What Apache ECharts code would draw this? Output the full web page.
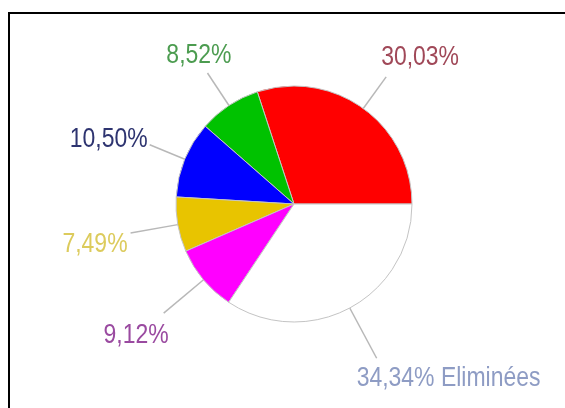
<!DOCTYPE html>
<html>
<head>
<meta charset="utf-8">
<script src="https://cdn.jsdelivr.net/npm/echarts@6/dist/echarts.min.js"></script>
<style>
  html, body { margin: 0; padding: 0; background: #ffffff; }
  #chart { width: 565px; height: 408px; }
</style>
</head>
<body>
<div id="chart"></div>
<script>
// Shares in percent, laid out counter-clockwise starting at 3 o'clock
const categories = ['', '', '', '', '', 'Eliminées'];
const shares = [30.03, 8.52, 10.50, 7.49, 9.12, 34.34];

// Styling, one entry per slice
const sliceColors = ['#ff0000', '#00c200', '#0000ff', '#e8c400', '#ff00ff', '#ffffff'];
const labelColors = ['#a04858', '#4c9c50', '#2e3470', '#dccb5c', '#9a4aa0', '#8e9cc4'];
// Radial leader length, then where the text sits relative to the leader's end
const leaderLengths = [39, 39, 38, 48, 52, 57];
const labelAlign = ['left', 'right', 'right', 'right', 'right', 'left'];
const labelShift = [[-5, -20], [24, -18], [-2, -5], [-3, 11], [5, 22], [-20, 20]];

// Narrow sans look: regular sans squeezed horizontally
const LABEL_FONT = "'Liberation Sans', Arial, sans-serif";
const LABEL_SQUEEZE = 0.82;

function formatShare(value, name) {
  const txt = value.toFixed(2).replace('.', ',') + '%';
  return name ? txt + ' ' + name : txt;
}

const pieData = shares.map((v, i) => ({
  name: categories[i],
  value: v,
  itemStyle: { color: sliceColors[i] },
  label: { color: labelColors[i] },
  labelLine: { length: leaderLengths[i] }
}));

const chart = echarts.init(document.getElementById('chart'), null, { renderer: 'canvas' });

chart.setOption({
  animation: false,
  backgroundColor: '#ffffff',
  graphic: [{
    // frame: only its top and left edges fall inside the view
    type: 'rect',
    silent: true,
    shape: { x: 9, y: 13, width: 700, height: 500 },
    style: { fill: 'none', stroke: '#000000', lineWidth: 2 }
  }],
  series: [{
    type: 'pie',
    center: [294, 204],
    radius: 118,
    startAngle: 0,
    clockwise: false,
    avoidLabelOverlap: false,
    data: pieData,
    itemStyle: { borderColor: '#c4c4c4', borderWidth: 1 },
    emphasis: { disabled: true },
    label: {
      show: true,
      position: 'outside',
      fontFamily: LABEL_FONT,
      fontSize: 28,
      formatter: p => formatShare(p.value, p.name)
    },
    labelLine: {
      show: true,
      length2: 0,
      smooth: false,
      lineStyle: { color: '#b8b8b8', width: 1.5 }
    },
    labelLayout: params => {
      const pts = params.labelLinePoints;
      const end = pts[pts.length - 1];
      const s = labelShift[params.dataIndex];
      return {
        x: end[0] + s[0],
        y: end[1] + s[1],
        align: labelAlign[params.dataIndex],
        verticalAlign: 'middle',
        labelLinePoints: pts
      };
    }
  }]
});

// Squeeze each label horizontally around its anchor point
const pieSeriesData = chart.getModel().getSeriesByIndex(0).getData();
pieSeriesData.each(idx => {
  const sector = pieSeriesData.getItemGraphicEl(idx);
  const label = sector && sector.getTextContent();
  if (label) {
    label.scaleX = LABEL_SQUEEZE;
    label.markRedraw();
  }
});
chart.getZr().refresh();
</script>
</body>
</html>
